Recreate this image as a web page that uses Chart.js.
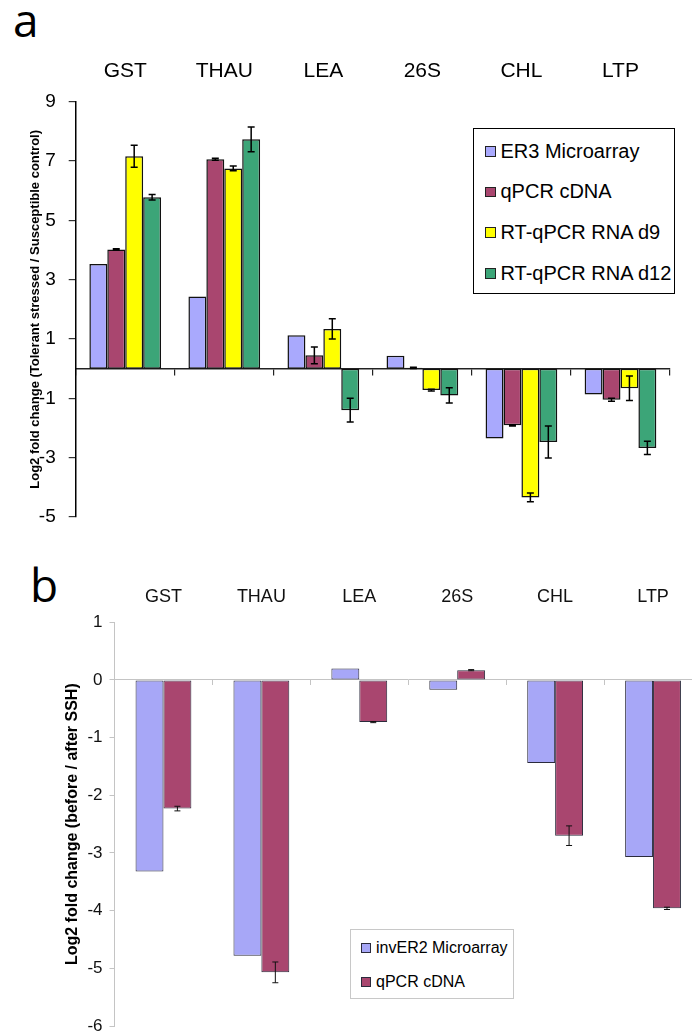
<!DOCTYPE html>
<html>
<head>
<meta charset="utf-8">
<script src="https://cdn.jsdelivr.net/npm/chart.js@4.4.1/dist/chart.umd.min.js"></script>
<style>
  html, body { margin: 0; padding: 0; background: #fff; }
  body { position: relative; width: 692px; height: 1032px; overflow: hidden;
         font-family: "Liberation Sans", Arial, sans-serif; }
  .panel-letter { position: absolute; font-family: "Open Sans", sans-serif; font-size: 46px;
                  line-height: 1; color: #000; }
  canvas { position: absolute; left: 0; }
  .legend { position: absolute; background: #fff; box-sizing: border-box; }
  .legend .row { display: flex; align-items: center; white-space: nowrap; color: #000; }
  .legend .sw { box-sizing: border-box; flex: none; }
</style>
</head>
<body>
<div class="panel-letter" style="left:13px;top:-4px">a</div>
<div class="panel-letter" style="left:30px;top:561px">b</div>
<canvas id="chartA" width="692" height="540" style="top:0"></canvas>
<canvas id="chartB" width="712" height="487" style="top:545px"></canvas>
<div class="legend" id="legendA"></div>
<div class="legend" id="legendB"></div>

<script>
// ---- Gene categories (shared by both panels) ----
const categories = ['GST', 'THAU', 'LEA', '26S', 'CHL', 'LTP'];

// ---- Panel a: Log2 fold change, tolerant stressed / susceptible control ----
const er3Microarray = [3.53, 2.43, 1.13, 0.44, -2.35, -0.87];
const qpcrCdnaA     = [4.02, 7.06, 0.45, 0.03, -1.91, -1.05];
const qpcrCdnaAErr  = [0.02, 0.03, 0.28, 0.02, 0.02, 0.05];
const rnaD9         = [7.16, 6.75, 1.34, -0.72, -4.34, -0.66];
const rnaD9Err      = [0.37, 0.08, 0.34, 0.03, 0.15, 0.41];
const rnaD12        = [5.78, 7.73, -1.40, -0.90, -2.47, -2.67];
const rnaD12Err     = [0.09, 0.42, 0.40, 0.26, 0.54, 0.22];
const yTicksA       = [-5, -3, -1, 1, 3, 5, 7, 9];

// ---- Panel b: Log2 fold change, before / after SSH ----
const invEr2Microarray = [-3.32, -4.78, 0.20, -0.17, -1.44, -3.07];
const qpcrCdnaB        = [-2.23, -5.07, -0.73, 0.17, -2.70, -3.96];
const qpcrCdnaBErr     = [0.04, 0.18, 0.01, 0.01, 0.17, 0.02];
const yTicksB          = [-6, -5, -4, -3, -2, -1, 0, 1];

const FONT = '"Liberation Sans", Arial, sans-serif';
const COLORS = {
  blue:   '#a9a9fd',
  maroon: '#a9466f',
  yellow: '#ffff00',
  green:  '#3ca578'
};

// Draws +/- error whiskers on top of each bar that carries an `errors` array
const errorBars = {
  id: 'errorBars',
  afterDatasetsDraw(chart, args, opts) {
    const ctx = chart.ctx;
    const yScale = chart.scales.y;
    chart.data.datasets.forEach((ds, i) => {
      if (!ds.errors) return;
      const meta = chart.getDatasetMeta(i);
      ctx.save();
      ctx.strokeStyle = opts.color;
      ctx.lineWidth = opts.width;
      meta.data.forEach((bar, j) => {
        const v = ds.data[j], e = ds.errors[j];
        if (e == null) return;
        const x = bar.x;
        const yHi = yScale.getPixelForValue(v + e);
        const yLo = yScale.getPixelForValue(v - e);
        ctx.beginPath();
        ctx.moveTo(x, yHi); ctx.lineTo(x, yLo);
        ctx.moveTo(x - opts.cap, yHi); ctx.lineTo(x + opts.cap, yHi);
        ctx.moveTo(x - opts.cap, yLo); ctx.lineTo(x + opts.cap, yLo);
        ctx.stroke();
      });
      ctx.restore();
    });
  }
};

function barSet(label, data, color, errors, border, bw) {
  return {
    label, data, errors,
    backgroundColor: color,
    borderColor: border,
    borderWidth: bw,
    borderSkipped: false,
    xAxisID: 'x', yAxisID: 'y'
  };
}

function buildLegend(el, chart, cfg) {
  Object.assign(el.style, cfg.box);
  chart.data.datasets.forEach(ds => {
    const row = document.createElement('div');
    row.className = 'row';
    row.style.height = cfg.rowH + 'px';
    row.style.fontSize = cfg.fontSize + 'px';
    const sw = document.createElement('span');
    sw.className = 'sw';
    sw.style.width = cfg.sw + 'px';
    sw.style.height = cfg.sw + 'px';
    sw.style.background = ds.backgroundColor;
    sw.style.border = cfg.swBorder;
    sw.style.marginRight = cfg.gap + 'px';
    const tx = document.createElement('span');
    tx.textContent = ds.label;
    row.appendChild(sw);
    row.appendChild(tx);
    el.appendChild(row);
  });
}

// ================= Panel a =================
const chartA = new Chart(document.getElementById('chartA'), {
  type: 'bar',
  data: {
    labels: categories,
    datasets: [
      barSet('ER3 Microarray',   er3Microarray, COLORS.blue,   null,         '#111', 1.5),
      barSet('qPCR cDNA',        qpcrCdnaA,     COLORS.maroon, qpcrCdnaAErr, '#111', 1.5),
      barSet('RT-qPCR RNA d9',   rnaD9,         COLORS.yellow, rnaD9Err,     '#111', 1.5),
      barSet('RT-qPCR RNA d12',  rnaD12,        COLORS.green,  rnaD12Err,    '#111', 1.5)
    ]
  },
  options: {
    responsive: false,
    animation: false,
    layout: { padding: { left: 0, right: 22, top: 0, bottom: 23 } },
    datasets: { bar: { categoryPercentage: 0.724, barPercentage: 1.0 } },
    plugins: {
      legend: { display: false },
      tooltip: { enabled: false },
      errorBars: { color: '#000', width: 1.5, cap: 3.5 }
    },
    scales: {
      x: {
        type: 'category', position: 'top', offset: true,
        grid: { display: false, drawTicks: false },
        border: { display: false },
        ticks: { color: '#000', font: { family: FONT, size: 21 }, padding: 18.3,
                 maxRotation: 0, autoSkip: false },
        afterFit(s) { s.height = 101.7; s.paddingLeft = 0; s.paddingRight = 0; }
      },
      xZero: {
        type: 'category', axis: 'x', position: { y: 0 }, offset: true,
        grid: { offset: true, drawOnChartArea: false, drawTicks: true, tickLength: 6,
                color: '#222', lineWidth: 1.2 },
        border: { display: true, color: '#222', width: 1.4 },
        ticks: { display: false }
      },
      y: {
        type: 'linear', position: 'left', min: -5, max: 9,
        afterBuildTicks(s) { s.ticks = yTicksA.map(v => ({ value: v })); },
        grid: { drawOnChartArea: false, tickLength: 7, color: '#333', lineWidth: 1.2 },
        border: { color: '#000', width: 1.5 },
        ticks: { color: '#000', font: { family: FONT, size: 19 }, padding: 13 },
        title: {
          display: true,
          text: 'Log2 fold change (Tolerant stressed / Susceptible control)',
          color: '#000',
          font: { family: FONT, size: 13, weight: 'bold' },
          padding: { top: 27.2, bottom: 0 }
        },
        afterFit(s) { s.width = 75.7; s.paddingTop = 0; s.paddingBottom = 0; }
      }
    }
  },
  plugins: [errorBars]
});

// ================= Panel b =================
const chartB = new Chart(document.getElementById('chartB'), {
  type: 'bar',
  data: {
    labels: categories,
    datasets: [
      barSet('invER2 Microarray', invEr2Microarray, '#a7a7f7', null,         '#2b2b3c', 1),
      barSet('qPCR cDNA',         qpcrCdnaB,        '#a9466f', qpcrCdnaBErr, '#2b2b3c', 1)
    ]
  },
  options: {
    responsive: false,
    animation: false,
    layout: { padding: { left: 0, right: 10, top: 0, bottom: 6 } },
    datasets: { bar: { categoryPercentage: 0.57, barPercentage: 1.0 } },
    plugins: {
      legend: { display: false },
      tooltip: { enabled: false },
      errorBars: { color: '#111', width: 1, cap: 3 }
    },
    scales: {
      x: {
        type: 'category', position: 'top', offset: true,
        grid: { display: false, drawTicks: false },
        border: { display: false },
        ticks: { color: '#111', font: { family: FONT, size: 18 }, padding: 14.8,
                 maxRotation: 0, autoSkip: false },
        afterFit(s) { s.height = 77.3; s.paddingLeft = 0; s.paddingRight = 0; }
      },
      xZero: {
        type: 'category', axis: 'x', position: { y: 0 }, offset: true,
        grid: { offset: true, drawOnChartArea: false, drawTicks: true, tickLength: 5,
                color: '#c4c4c4', lineWidth: 1 },
        border: { display: true, color: '#c4c4c4', width: 1 },
        ticks: { display: false }
      },
      y: {
        type: 'linear', position: 'left', min: -6, max: 1,
        afterBuildTicks(s) { s.ticks = yTicksB.map(v => ({ value: v })); },
        grid: { drawOnChartArea: false, tickLength: 5, color: '#c4c4c4', lineWidth: 1 },
        border: { color: '#c4c4c4', width: 1 },
        ticks: { color: '#111', font: { family: FONT, size: 17 }, padding: 7 },
        title: {
          display: true,
          text: 'Log2 fold change (before / after SSH)',
          color: '#000',
          font: { family: FONT, size: 16, weight: 'bold' },
          padding: { top: 63.4, bottom: 0 }
        },
        afterFit(s) { s.width = 114.5; s.paddingTop = 0; s.paddingBottom = 0; }
      }
    }
  },
  plugins: [errorBars]
});

// ---- Legends ----
buildLegend(document.getElementById('legendA'), chartA, {
  box: { left: '473px', top: '128px', width: '202px', height: '166px',
         border: '1.3px solid #000', paddingLeft: '11px', paddingTop: '2px' },
  rowH: 40.67, fontSize: 20, sw: 10.5, swBorder: '1px solid #222', gap: 5
});
buildLegend(document.getElementById('legendB'), chartB, {
  box: { left: '350px', top: '929px', width: '164px', height: '70px',
         border: '1px solid #c8c8c8', paddingLeft: '10px', paddingTop: '1px' },
  rowH: 34, fontSize: 16, sw: 10, swBorder: '1px solid #2b2b3c', gap: 5
});
</script>
</body>
</html>
